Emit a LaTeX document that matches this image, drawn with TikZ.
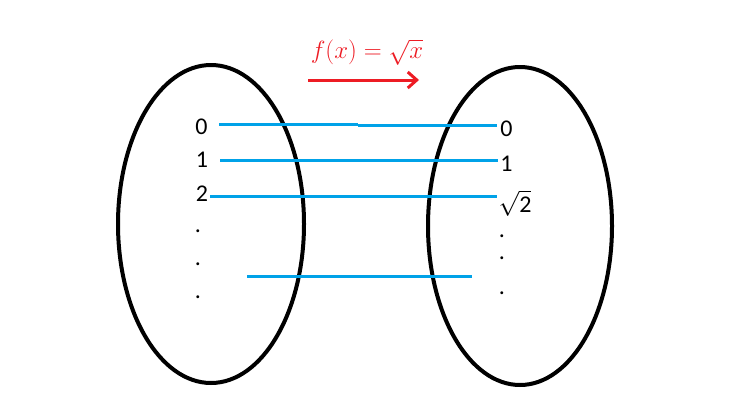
\documentclass[tikz,border=0pt]{standalone}
\usepackage{fontspec}
\setmainfont{Carlito}
\usetikzlibrary{arrows,arrows.meta}
\usetikzlibrary{positioning}

\definecolor{paintred}{RGB}{237,28,36}
\definecolor{paintblue}{RGB}{0,162,232}

\begin{document}
\begin{tikzpicture}[x=1pt,y=-1pt,
  set/.style={draw=black,line width=4pt},
  elem/.style={inner sep=0pt,font=\fontsize{24}{26}\selectfont},
  map line/.style={draw=paintblue,line width=3pt}]

  \useasboundingbox (0,0) rectangle (738,410);

  % the two sets
  \draw[set] (211,224) ellipse [x radius=93,y radius=159];
  \draw[set] (520,226) ellipse [x radius=92,y radius=159];

  % the rule
  \node[inner sep=0pt,text=paintred,font=\fontsize{28}{30}\selectfont] (f) at (367,52) {$f(x)=\sqrt{x}$};
  \coordinate (r1) at (308,80);
  \coordinate (r2) at (419,80);
  \draw[-{Straight Barb[length=9pt,width=16pt,line width=3pt]},draw=paintred,line width=3pt] (r1) -- (r2);

  % domain
  \node[elem] (0) at (201.5,127) {0};
  \node[elem] (1) at (202,159.5) {1};
  \node[elem] (2) at (202,194) {2};
  \node[elem] (d1) at (198,231) {.};
  \node[elem] (d2) at (198,264) {.};
  \node[elem] (d3) at (198,297) {.};

  % range
  \node[elem] (0b) at (506.5,129) {0};
  \node[elem] (1b) at (506.5,164) {1};
  \node[elem] (2b) at (515,203) {$\sqrt{\mbox{2}}$};
  \node[elem] (e1) at (502,236) {.};
  \node[elem] (e2) at (502,258) {.};
  \node[elem] (e3) at (502,293) {.};

  % mapping
  \coordinate (m0) at (219,124.5);
  \coordinate (m0a) at (358,124.5);
  \coordinate (m0b) at (358,125.5);
  \coordinate (m0c) at (497,125.5);
  \draw[map line] (m0) -- (m0a);
  \draw[map line] (m0b) -- (m0c);
  \coordinate (m1) at (220,160);
  \coordinate (m1b) at (498,160);
  \draw[map line] (m1) -- (m1b);
  \coordinate (m2) at (210,196);
  \coordinate (m2b) at (497,196);
  \draw[map line] (m2) -- (m2b);
  \coordinate (m3) at (247,276);
  \coordinate (m3b) at (472,276);
  \draw[map line] (m3) -- (m3b);
\end{tikzpicture}
\end{document}
